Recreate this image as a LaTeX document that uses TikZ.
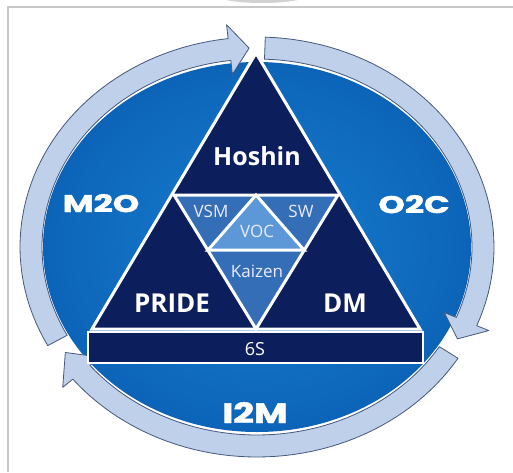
\documentclass[tikz,border=0pt]{standalone}
\usepackage{fontspec}
\usepackage{graphicx}
\setmainfont{Open Sans}
\newfontfamily\widefont[BoldFeatures={FakeBold=1.6}]{Poppins}
\definecolor{navy}{RGB}{12,30,92}
\definecolor{midblue}{RGB}{52,110,182}
\definecolor{vocblue}{RGB}{92,152,216}
\definecolor{diskin}{RGB}{24,126,208}
\definecolor{diskout}{RGB}{12,100,184}
\definecolor{ringfill}{RGB}{190,208,234}
\definecolor{ringline}{RGB}{70,88,125}
\definecolor{framegray}{RGB}{200,200,200}
\tikzset{
  ringarrow/.style={fill=ringfill, draw=ringline, line width=0.8pt, line join=round},
  tri/.style={draw=white, line width=3pt, line join=miter},
  bigtxt/.style={text=white, font=\bfseries\fontsize{25}{28}\selectfont, anchor=base, inner sep=0pt},
  smalltxt/.style={text=white!92!blue, font=\fontsize{17}{19}\selectfont, anchor=base, inner sep=0pt},
  cycletxt/.style={text=white, anchor=base, inner sep=0pt}
}
\begin{document}
\begin{tikzpicture}[x=1pt,y=-1pt]
\useasboundingbox (0,0) rectangle (513,472);
\fill[white] (0,0) rectangle (513,472);
% frame
\fill[black!18] (262,-6) ellipse (48 and 9);
\draw[framegray, line width=1.5pt] (513,7) -- (8,7) -- (8,472);
% disk
\shade[inner color=diskin, outer color=diskout] (257,247) ellipse (214 and 185);
% M2O arrow
\filldraw[ringarrow] plot[domain=208:97, samples=50] ({257+237*cos(\x)},{247-210*sin(\x)})
  -- ({257+250*cos(97)},{247-224*sin(97)})
  -- ({257+226*cos(92)},{247-199*sin(92)})
  -- ({257+202*cos(97)},{247-174*sin(97)})
  -- plot[domain=97:208, samples=50] ({257+215*cos(\x)},{247-188*sin(\x)}) -- cycle;
% O2C arrow
\filldraw[ringarrow] plot[domain=88:-22, samples=50] ({257+237*cos(\x)},{247-210*sin(\x)})
  -- ({257+250*cos(-22)},{247-223*sin(-22)})
  -- ({257+226*cos(-27.5)},{247-199*sin(-27.5)})
  -- ({257+202*cos(-22)},{247-175*sin(-22)})
  -- plot[domain=-22:88, samples=50] ({257+215*cos(\x)},{247-188*sin(\x)}) -- cycle;
% I2M arrow
\filldraw[ringarrow] plot[domain=328:219, samples=50] ({257+237*cos(\x)},{247-210*sin(\x)})
  -- ({257+250*cos(219)},{247-223*sin(219)})
  -- ({257+226*cos(212)},{247-199*sin(212)})
  -- ({257+202*cos(219)},{247-175*sin(219)})
  -- plot[domain=219:328, samples=50] ({257+215*cos(\x)},{247-188*sin(\x)}) -- cycle;
% triangles
\coordinate (apex) at (256,53);
\coordinate (bl) at (92,329);
\coordinate (br) at (420,329);
\coordinate (ml) at (174,195);
\coordinate (mr) at (338,195);
\coordinate (mb) at (256,329);
\coordinate (va) at (256,195);
\coordinate (vl) at (208,250);
\coordinate (vr) at (304,250);
\filldraw[tri, fill=navy] (apex) -- (bl) -- (br) -- cycle;
\filldraw[tri, fill=midblue] (ml) -- (mr) -- (mb) -- cycle;
\filldraw[tri, fill=vocblue] (va) -- (vr) -- (vl) -- cycle;
% 6S bar
\filldraw[fill=navy, draw=white, line width=2.5pt] (88,332) rectangle (423,363);
% texts
\node[bigtxt] (hoshin) at (257,165) {Hoshin};
\node[bigtxt, font=\bfseries\fontsize{26}{28}\selectfont] (pride) at (172,312) {PRIDE};
\node[bigtxt, font=\bfseries\fontsize{26}{28}\selectfont] (dm) at (345,312) {DM};
\node[smalltxt] (vsm) at (211,217) {VSM};
\node[smalltxt] (sw) at (301,217) {SW};
\node[smalltxt] (voc) at (257,237) {VOC};
\node[smalltxt] (kaizen) at (257,277) {Kaizen};
\node[smalltxt, text=white, font=\fontsize{18}{20}\selectfont] (six) at (255,355) {6S};
\node[cycletxt] (m2o) at (101,212) {\scalebox{1.4}[1]{\widefont\bfseries\fontsize{24}{26}\selectfont M2O}};
\node[cycletxt] (o2c) at (414,213) {\scalebox{1.4}[1]{\widefont\bfseries\fontsize{24}{26}\selectfont O2C}};
\node[cycletxt] (i2m) at (255,423) {\scalebox{1.3}[1]{\widefont\bfseries\fontsize{28}{30}\selectfont I2M}};
\end{tikzpicture}
\end{document}
